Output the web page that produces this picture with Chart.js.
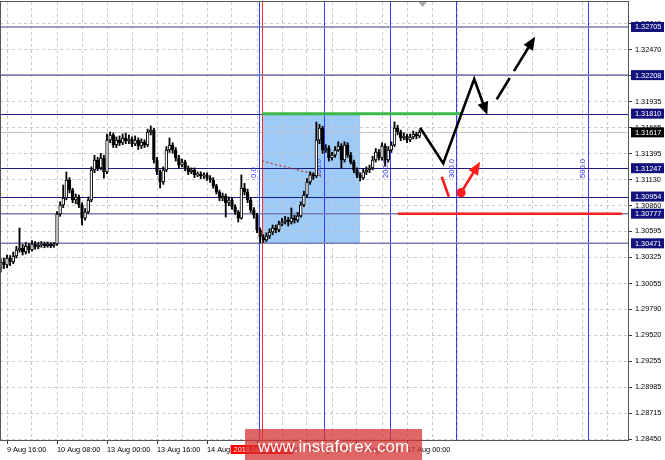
<!DOCTYPE html>
<html>
<head>
<meta charset="utf-8">
<script src="https://cdn.jsdelivr.net/npm/chart.js@4.4.0/dist/chart.umd.min.js"></script>
<style>
html, body { margin: 0; padding: 0; background: #fff; }
#wrap { width: 665px; height: 460px; position: relative; }
</style>
</head>
<body>
<div id="wrap"><canvas id="chart"></canvas></div>
<script>
// H1 candles, bar 0 = 9 Aug 16:00, the arrays start two bars earlier
const firstBar = -2;

const opens = [
  1.30216, 1.30278, 1.30247, 1.30319, 1.30278, 1.30340, 1.30402, 1.30422, 1.30381, 1.30443, 1.30402, 1.30464, 1.30433, 1.30453, 1.30464, 1.30443, 1.30464, 1.30443,
  1.30464, 1.30774, 1.30867, 1.30939, 1.31125, 1.31022, 1.30918, 1.30949, 1.30867, 1.30732, 1.30794, 1.30918, 1.31228, 1.31331, 1.31249, 1.31352,
  1.31208, 1.31538, 1.31590, 1.31486, 1.31538, 1.31507, 1.31559, 1.31528, 1.31548, 1.31497, 1.31538, 1.31476, 1.31517, 1.31486, 1.31621, 1.31641,
  1.31331, 1.31208, 1.31104, 1.31228, 1.31435, 1.31486, 1.31435, 1.31352, 1.31280, 1.31311, 1.31249, 1.31208, 1.31228, 1.31177, 1.31187, 1.31166,
  1.31177, 1.31146, 1.31125, 1.31063, 1.31001, 1.30939, 1.30960, 1.30887, 1.30918, 1.30846, 1.30794, 1.30732, 1.31042, 1.31001, 1.30918, 1.30815,
  1.30763, 1.30609, 1.30536, 1.30505, 1.30547, 1.30588, 1.30629, 1.30609, 1.30670, 1.30691, 1.30712, 1.30691, 1.30732, 1.30712, 1.30753, 1.30867,
  1.30970, 1.31104, 1.31177, 1.31166, 1.31538, 1.31662, 1.31435, 1.31455, 1.31352, 1.31383, 1.31435, 1.31476, 1.31331, 1.31486, 1.31383, 1.31311,
  1.31228, 1.31177, 1.31146, 1.31208, 1.31228, 1.31249, 1.31331, 1.31414, 1.31352, 1.31476, 1.31331, 1.31435, 1.31486, 1.31662, 1.31621, 1.31559,
  1.31579, 1.31538, 1.31569, 1.31600, 1.31579
];
const highs = [
  1.30310, 1.30320, 1.30350, 1.30345, 1.30380, 1.30440, 1.30629, 1.30460, 1.30480, 1.30470, 1.30500, 1.30490, 1.30480, 1.30490, 1.30485, 1.30485, 1.30480, 1.30480,
  1.30800, 1.30900, 1.31073, 1.31208, 1.31150, 1.31040, 1.30980, 1.30970, 1.30890, 1.30830, 1.30950, 1.31260, 1.31380, 1.31360, 1.31400, 1.31380,
  1.31600, 1.31620, 1.31610, 1.31570, 1.31580, 1.31600, 1.31610, 1.31590, 1.31570, 1.31580, 1.31560, 1.31550, 1.31540, 1.31650, 1.31683, 1.31660,
  1.31360, 1.31230, 1.31260, 1.31470, 1.31559, 1.31510, 1.31460, 1.31380, 1.31340, 1.31330, 1.31270, 1.31250, 1.31250, 1.31210, 1.31210, 1.31200,
  1.31200, 1.31170, 1.31150, 1.31080, 1.31020, 1.30990, 1.30980, 1.30950, 1.30940, 1.30870, 1.30810, 1.31177, 1.31090, 1.31030, 1.30940, 1.30840,
  1.30780, 1.30630, 1.30560, 1.30580, 1.30620, 1.30660, 1.30660, 1.30700, 1.30730, 1.30750, 1.30740, 1.30836, 1.30760, 1.30790, 1.30900, 1.31010,
  1.31140, 1.31210, 1.31200, 1.31724, 1.31700, 1.31680, 1.31490, 1.31480, 1.31410, 1.31470, 1.31520, 1.31500, 1.31520, 1.31510, 1.31410, 1.31330,
  1.31250, 1.31200, 1.31240, 1.31260, 1.31280, 1.31370, 1.31450, 1.31440, 1.31510, 1.31500, 1.31470, 1.31520, 1.31724, 1.31690, 1.31640, 1.31610,
  1.31600, 1.31600, 1.31630, 1.31620, 1.31640
];
const lows = [
  1.30175, 1.30210, 1.30220, 1.30240, 1.30260, 1.30320, 1.30380, 1.30350, 1.30360, 1.30370, 1.30390, 1.30410, 1.30415, 1.30430, 1.30425, 1.30430, 1.30425, 1.30430,
  1.30450, 1.30750, 1.30840, 1.30920, 1.30990, 1.30890, 1.30880, 1.30840, 1.30660, 1.30710, 1.30780, 1.30900, 1.31200, 1.31220, 1.31230, 1.31146,
  1.31190, 1.31510, 1.31460, 1.31460, 1.31480, 1.31490, 1.31500, 1.31500, 1.31470, 1.31480, 1.31440, 1.31450, 1.31460, 1.31470, 1.31590, 1.31300,
  1.31180, 1.31042, 1.31080, 1.31210, 1.31410, 1.31400, 1.31320, 1.31250, 1.31260, 1.31220, 1.31180, 1.31190, 1.31150, 1.31160, 1.31140, 1.31140,
  1.31120, 1.31100, 1.31040, 1.30980, 1.30910, 1.30910, 1.30743, 1.30860, 1.30820, 1.30770, 1.30691, 1.30720, 1.30970, 1.30890, 1.30790, 1.30730,
  1.30580, 1.30474, 1.30480, 1.30490, 1.30520, 1.30560, 1.30580, 1.30590, 1.30650, 1.30670, 1.30650, 1.30670, 1.30680, 1.30690, 1.30740, 1.30850,
  1.30950, 1.31080, 1.31130, 1.31150, 1.31500, 1.31400, 1.31410, 1.31320, 1.31330, 1.31360, 1.31420, 1.31249, 1.31310, 1.31360, 1.31290, 1.31200,
  1.31150, 1.31115, 1.31130, 1.31180, 1.31200, 1.31230, 1.31310, 1.31330, 1.31330, 1.31270, 1.31310, 1.31410, 1.31470, 1.31590, 1.31530, 1.31540,
  1.31510, 1.31520, 1.31550, 1.31550, 1.31560
];
const closes = [
  1.30278, 1.30247, 1.30319, 1.30278, 1.30340, 1.30402, 1.30422, 1.30381, 1.30443, 1.30402, 1.30464, 1.30433, 1.30453, 1.30464, 1.30443, 1.30464, 1.30443, 1.30464,
  1.30774, 1.30867, 1.30939, 1.31125, 1.31022, 1.30918, 1.30949, 1.30867, 1.30732, 1.30794, 1.30918, 1.31228, 1.31331, 1.31249, 1.31352, 1.31208,
  1.31538, 1.31590, 1.31486, 1.31538, 1.31507, 1.31559, 1.31528, 1.31548, 1.31497, 1.31538, 1.31476, 1.31517, 1.31486, 1.31621, 1.31641, 1.31331,
  1.31208, 1.31104, 1.31228, 1.31435, 1.31486, 1.31435, 1.31352, 1.31280, 1.31311, 1.31249, 1.31208, 1.31228, 1.31177, 1.31187, 1.31166, 1.31177,
  1.31146, 1.31125, 1.31063, 1.31001, 1.30939, 1.30960, 1.30887, 1.30918, 1.30846, 1.30794, 1.30732, 1.31042, 1.31001, 1.30918, 1.30815, 1.30763,
  1.30609, 1.30536, 1.30505, 1.30547, 1.30588, 1.30629, 1.30609, 1.30670, 1.30691, 1.30712, 1.30691, 1.30732, 1.30712, 1.30753, 1.30867, 1.30970,
  1.31104, 1.31177, 1.31166, 1.31538, 1.31662, 1.31435, 1.31455, 1.31352, 1.31383, 1.31435, 1.31476, 1.31331, 1.31486, 1.31383, 1.31311, 1.31228,
  1.31177, 1.31146, 1.31208, 1.31228, 1.31249, 1.31331, 1.31414, 1.31352, 1.31476, 1.31331, 1.31435, 1.31486, 1.31662, 1.31621, 1.31559, 1.31579,
  1.31538, 1.31569, 1.31600, 1.31579, 1.31617
];

// axis labels
const timeLabels = ['9 Aug 16:00', '10 Aug 08:00', '13 Aug 00:00', '13 Aug 16:00', '14 Aug 08:00',
                    '15 Aug 00:00', '15 Aug 16:00', '16 Aug 08:00', '17 Aug 00:00'];
const timeLabelBars = [0, 16, 32, 48, 64, 80, 96, 112, 128];
const priceTicks = [1.32740, 1.32470, 1.32200, 1.31935, 1.31665, 1.31395, 1.31130, 1.30860, 1.30595,
                    1.30325, 1.30055, 1.29790, 1.29520, 1.29255, 1.28985, 1.28715, 1.28450];

// horizontal levels
const levelsMain = [1.31810, 1.31247, 1.30954];
const levelsSoft = [1.32705, 1.32208, 1.30777, 1.30471];
const levelTags = [1.32705, 1.32208, 1.31810, 1.31247, 1.30954, 1.30777, 1.30471];
const lastPrice = 1.31617;

// fibo time zones + vertical line
const fiboBars = [80.6, 101.4, 122.7, 143.8, 185.9];
const fiboNames = ['0.0', '100.0', '200.0', '300.0', '500.0'];
const fiboTextPrice = 1.31146;
const vlineBar = 81.6;
const vlineTag = '2018.08.15 01:00';

// drawn objects: [bar, price]
const zoneBox = [[81.6, 1.31810], [113, 1.30471]];
const greenLine = [[81.6, 1.31810], [145.9, 1.31810]];
const redLine = [[125.1, 1.30777], [196.8, 1.30777]];
const trendLine = [[81.6, 1.31321], [100.8, 1.31166]];
const blackPath = [[132.2, 1.31665], [139.6, 1.31297], [149.5, 1.32168], [153.7, 1.31796]];
const blackDash = [[156.7, 1.31958], [169.0, 1.32605]];
const redStroke = [[139.1, 1.31159], [141.4, 1.30952]];
const redArrow = [[145.3, 1.30994], [151.4, 1.31314]];

const smallFont = '7.3px "Liberation Sans", Arial, sans-serif';

const bodyData = closes.map((c, k) => ({ x: firstBar + k, y: [opens[k], c] }));
const wickData = closes.map((c, k) => ({ x: firstBar + k, y: [lows[k], highs[k]] }));

function arrowLine(ctx, pts, color, width, dash) {
    const n = pts.length;
    const [ax, ay] = pts[n - 2], [bx, by] = pts[n - 1];
    const ang = Math.atan2(by - ay, bx - ax);
    const head = 13, half = 5.5;
    ctx.save();
    ctx.strokeStyle = color;
    ctx.fillStyle = color;
    ctx.lineWidth = width;
    ctx.lineJoin = 'miter';
    ctx.setLineDash(dash || []);
    ctx.beginPath();
    ctx.moveTo(pts[0][0], pts[0][1]);
    for (let i = 1; i < n - 1; i++) ctx.lineTo(pts[i][0], pts[i][1]);
    ctx.lineTo(bx - Math.cos(ang) * head * 0.8, by - Math.sin(ang) * head * 0.8);
    ctx.stroke();
    ctx.setLineDash([]);
    ctx.beginPath();
    ctx.moveTo(bx, by);
    ctx.lineTo(bx - Math.cos(ang) * head + Math.sin(ang) * half, by - Math.sin(ang) * head - Math.cos(ang) * half);
    ctx.lineTo(bx - Math.cos(ang) * head - Math.sin(ang) * half, by - Math.sin(ang) * head + Math.cos(ang) * half);
    ctx.closePath();
    ctx.fill();
    ctx.restore();
}

const drawings = {
    id: 'drawings',
    beforeDraw(chart) {
        const { ctx, chartArea: a, scales: { x, y } } = chart;
        ctx.save();
        ctx.beginPath();
        ctx.rect(a.left, a.top, a.right - a.left, a.bottom - a.top);
        ctx.clip();
        const x0 = x.getPixelForValue(zoneBox[0][0]), x1 = x.getPixelForValue(zoneBox[1][0]);
        const y0 = y.getPixelForValue(zoneBox[0][1]), y1 = y.getPixelForValue(zoneBox[1][1]);
        ctx.fillStyle = '#9dcaf6';
        ctx.fillRect(x0, y0, x1 - x0, y1 - y0);
        ctx.restore();
    },
    beforeDatasetsDraw(chart) {
        const { ctx, chartArea: a, scales: { x, y } } = chart;
        ctx.save();
        ctx.beginPath();
        ctx.rect(a.left, a.top, a.right - a.left, a.bottom - a.top);
        ctx.clip();

        // bid line
        ctx.strokeStyle = '#c4c4c4';
        ctx.lineWidth = 1;
        let yy = Math.round(y.getPixelForValue(lastPrice)) + 0.5;
        ctx.beginPath(); ctx.moveTo(a.left, yy); ctx.lineTo(a.right, yy); ctx.stroke();

        // vertical lines
        fiboBars.forEach(b => {
            const xx = Math.round(x.getPixelForValue(b)) + 0.5;
            ctx.strokeStyle = '#3a3aff';
            ctx.beginPath(); ctx.moveTo(xx, a.top); ctx.lineTo(xx, a.bottom); ctx.stroke();
        });
        const vx = Math.round(x.getPixelForValue(vlineBar)) + 0.5;
        ctx.strokeStyle = '#ff2a2a';
        ctx.beginPath(); ctx.moveTo(vx, a.top); ctx.lineTo(vx, a.bottom); ctx.stroke();

        // levels
        levelsSoft.forEach(v => {
            yy = y.getPixelForValue(v);
            ctx.strokeStyle = '#7d7db6';
            ctx.lineWidth = 1.6;
            ctx.beginPath(); ctx.moveTo(a.left, yy); ctx.lineTo(a.right, yy); ctx.stroke();
        });
        levelsMain.forEach(v => {
            yy = Math.round(y.getPixelForValue(v)) + 0.5;
            ctx.strokeStyle = '#1c1c86';
            ctx.lineWidth = 1;
            ctx.beginPath(); ctx.moveTo(a.left, yy); ctx.lineTo(a.right, yy); ctx.stroke();
        });

        // fibo labels, written upwards
        ctx.font = '7.6px "Liberation Sans", Arial, sans-serif';
        ctx.fillStyle = '#2f2ff0';
        ctx.textAlign = 'left';
        ctx.textBaseline = 'alphabetic';
        fiboBars.forEach((b, k) => {
            ctx.save();
            ctx.translate(x.getPixelForValue(b) - 2.5, y.getPixelForValue(fiboTextPrice));
            ctx.rotate(-Math.PI / 2);
            ctx.fillText(fiboNames[k], 0, 0);
            ctx.restore();
        });

        // dotted trend line
        ctx.strokeStyle = '#b03a3a';
        ctx.lineWidth = 1.3;
        ctx.setLineDash([2, 2.5]);
        ctx.beginPath();
        ctx.moveTo(x.getPixelForValue(trendLine[0][0]), y.getPixelForValue(trendLine[0][1]));
        ctx.lineTo(x.getPixelForValue(trendLine[1][0]), y.getPixelForValue(trendLine[1][1]));
        ctx.stroke();
        ctx.restore();
    },
    afterDatasetsDraw(chart) {
        const { ctx, chartArea: a, scales: { x, y } } = chart;
        const P = pts => pts.map(p => [x.getPixelForValue(p[0]), y.getPixelForValue(p[1])]);
        ctx.save();
        ctx.beginPath();
        ctx.rect(a.left, a.top, a.right - a.left, a.bottom - a.top);
        ctx.clip();

        ctx.lineWidth = 3;
        ctx.strokeStyle = '#3fb84a';
        let g = P(greenLine);
        ctx.beginPath(); ctx.moveTo(g[0][0], g[0][1]); ctx.lineTo(g[1][0], g[1][1]); ctx.stroke();
        ctx.strokeStyle = '#ff1c1c';
        ctx.lineWidth = 2.5;
        g = P(redLine);
        ctx.beginPath(); ctx.moveTo(g[0][0], g[0][1]); ctx.lineTo(g[1][0], g[1][1]); ctx.stroke();

        arrowLine(ctx, P(blackPath), '#000', 2.6);
        arrowLine(ctx, P(blackDash), '#000', 2.6, [25, 8, 200, 0]);

        ctx.strokeStyle = '#ff1c1c';
        ctx.lineWidth = 2.6;
        g = P(redStroke);
        ctx.beginPath(); ctx.moveTo(g[0][0], g[0][1]); ctx.lineTo(g[1][0], g[1][1]); ctx.stroke();
        const r = P(redArrow);
        arrowLine(ctx, r, '#ff1c1c', 2.6);
        ctx.fillStyle = '#ff1c1c';
        ctx.beginPath(); ctx.arc(r[0][0], r[0][1], 4.6, 0, Math.PI * 2); ctx.fill();
        ctx.restore();
    },
    afterDraw(chart) {
        const { ctx, chartArea: a, scales: { x, y } } = chart;
        ctx.save();
        // frame
        ctx.strokeStyle = '#555';
        ctx.lineWidth = 1;
        ctx.strokeRect(a.left + 0.5, a.top - 0.5, a.right - a.left, a.bottom - a.top + 1);
        // chart shift marker
        const sx = x.getPixelForValue(133);
        ctx.fillStyle = '#a8a8a8';
        ctx.beginPath(); ctx.moveTo(sx - 4, a.top); ctx.lineTo(sx + 4, a.top); ctx.lineTo(sx, a.top + 5); ctx.closePath(); ctx.fill();

        // price tags on the right
        ctx.font = smallFont;
        ctx.textAlign = 'left';
        ctx.textBaseline = 'middle';
        const tag = (v, bg) => {
            const yy = y.getPixelForValue(v);
            ctx.fillStyle = bg;
            ctx.fillRect(a.right + 3, yy - 5, 33, 10);
            ctx.fillStyle = '#fff';
            ctx.fillText(v.toFixed(5), a.right + 7, yy + 0.5);
        };
        levelTags.forEach(v => tag(v, '#11117d'));
        tag(lastPrice, '#000');

        // time tag of the vertical line
        const vx = x.getPixelForValue(vlineBar);
        ctx.font = smallFont;
        const w = ctx.measureText(vlineTag).width + 6;
        ctx.fillStyle = '#ff0000';
        ctx.fillRect(vx - w / 2, a.bottom + 5, w, 9);
        ctx.fillStyle = '#fff';
        ctx.textAlign = 'center';
        ctx.fillText(vlineTag, vx, a.bottom + 10);

        // watermark
        ctx.fillStyle = 'rgba(214, 48, 48, 0.74)';
        ctx.fillRect(245, 429, 177, 31);
        ctx.fillStyle = '#fff';
        ctx.font = '17px "Liberation Sans", Arial, sans-serif';
        ctx.textAlign = 'center';
        ctx.textBaseline = 'alphabetic';
        ctx.fillText('www.instaforex.com', 333.5, 452);
        ctx.restore();
    }
};

Chart.defaults.font.family = '"Liberation Sans", Arial, sans-serif';

new Chart(document.getElementById('chart'), {
    type: 'bar',
    data: {
        datasets: [
            {
                label: 'body',
                data: bodyData,
                order: 0,
                grouped: false,
                barThickness: 2.8,
                minBarLength: 1,
                borderWidth: 1,
                borderColor: '#000',
                borderSkipped: false,
                backgroundColor: ctx => (ctx.raw && ctx.raw.y[1] > ctx.raw.y[0]) ? '#fff' : '#000'
            },
            {
                label: 'wick',
                data: wickData,
                order: 1,
                grouped: false,
                barThickness: 1.2,
                backgroundColor: '#000'
            }
        ]
    },
    options: {
        responsive: true,
        maintainAspectRatio: false,
        animation: false,
        layout: { padding: { top: 2, left: 0, right: 0, bottom: 0 } },
        plugins: { legend: { display: false }, tooltip: { enabled: false } },
        scales: {
            x: {
                type: 'linear',
                min: -2.24,
                max: 198.72,
                offset: false,
                grid: {
                    offset: false,
                    color: '#c9c9c9',
                    tickLength: 4,
                    tickColor: c => (c.tick && timeLabelBars.includes(c.tick.value)) ? '#333' : 'rgba(0,0,0,0)'
                },
                border: { display: false, dash: [3, 3] },
                afterBuildTicks: s => {
                    const t = [];
                    for (let b = 0; b <= 192; b += 8) t.push({ value: b });
                    s.ticks = t;
                },
                afterFit: s => { s.height = 20; s.paddingLeft = 0; s.paddingRight = 0; },
                ticks: {
                    autoSkip: false,
                    maxRotation: 0,
                    align: 'start',
                    padding: 2,
                    color: '#000',
                    font: { size: 7.3 },
                    callback: v => {
                        const k = timeLabelBars.indexOf(v);
                        return k >= 0 ? timeLabels[k] : '';
                    }
                }
            },
            y: {
                position: 'right',
                min: 1.28440,
                max: 1.32963,
                beginAtZero: false,
                grid: { color: '#c9c9c9', tickLength: 4, tickColor: '#333' },
                border: { display: false, dash: [3, 3] },
                afterBuildTicks: s => { s.ticks = priceTicks.map(v => ({ value: v })); },
                afterFit: s => { s.width = 37; s.paddingTop = 0; s.paddingBottom = 0; },
                ticks: {
                    autoSkip: false,
                    padding: 3,
                    color: '#000',
                    font: { size: 7.3 },
                    callback: v => v.toFixed(5)
                }
            }
        }
    },
    plugins: [drawings]
});
</script>
</body>
</html>
